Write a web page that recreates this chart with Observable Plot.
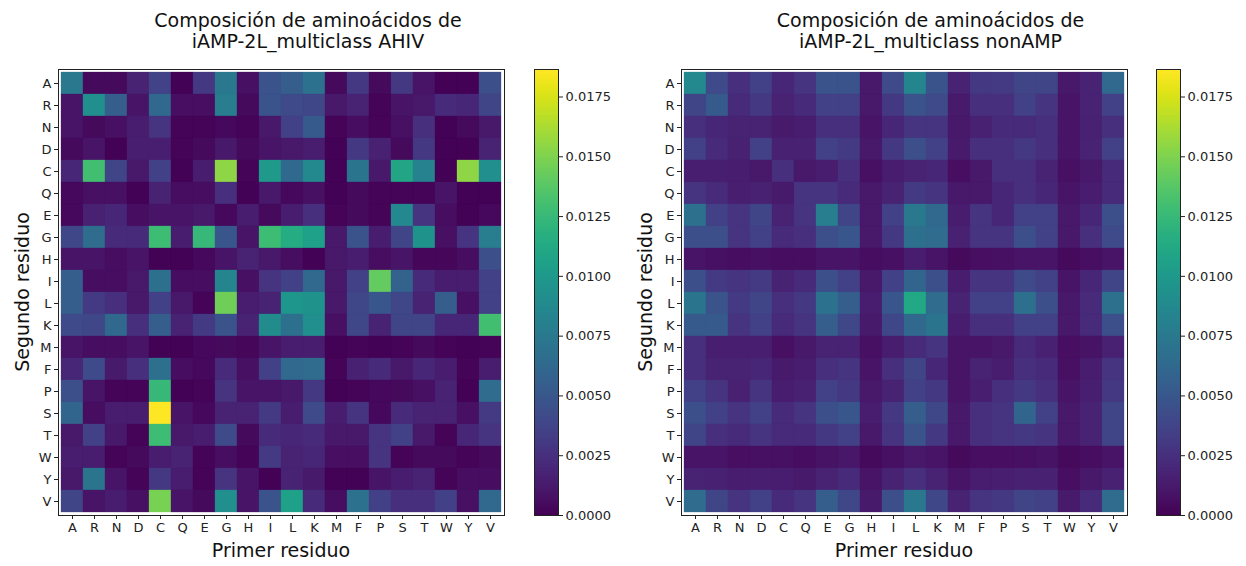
<!DOCTYPE html>
<html>
<head>
<meta charset="utf-8">
<script src="https://cdn.jsdelivr.net/npm/d3@7"></script>
<script src="https://cdn.jsdelivr.net/npm/@observablehq/plot@0.6"></script>
<style>
  body { margin: 0; background: #fff; font-family: "DejaVu Sans", sans-serif; }
  #root { position: relative; width: 1246px; height: 566px; overflow: hidden; background: #fff; }
  .abs { position: absolute; }
  .title { font-size: 19px; line-height: 21px; text-align: center; color: #111; white-space: nowrap; transform: translateX(-50%); }
  .xlab { font-size: 19px; color: #111; white-space: nowrap; transform: translate(-50%, -50%); }
  .ylab { font-size: 19px; color: #111; white-space: nowrap; transform: translate(-50%, -50%) rotate(-90deg); }
</style>
</head>
<body>
<div id="root"></div>
<script>
// Residue order (x: first residue, y: second residue)
const residues = ["A","R","N","D","C","Q","E","G","H","I","L","K","M","F","P","S","T","W","Y","V"];
const colorbarTicks = [0, 0.0025, 0.005, 0.0075, 0.01, 0.0125, 0.015, 0.0175];
const vmax = 0.01865;

const titleAHIV = ["Composición de aminoácidos de", "iAMP-2L_multiclass AHIV"];
const titleNonAMP = ["Composición de aminoácidos de", "iAMP-2L_multiclass nonAMP"];
const xLabel = "Primer residuo";
const yLabel = "Segundo residuo";

// AHIV: one array per second residue (row), values along first residue (columns)
const ahiv_A = [0.0075,0.0005,0.0005,0.0018,0.0037,0.0001,0.0030,0.0075,0.0008,0.0048,0.0055,0.0070,0.0005,0.0030,0.0005,0.0030,0.0010,0.0001,0.0001,0.0045];
const ahiv_R = [0.0010,0.0092,0.0055,0.0010,0.0062,0.0007,0.0007,0.0078,0.0005,0.0048,0.0042,0.0040,0.0012,0.0018,0.0002,0.0010,0.0012,0.0022,0.0020,0.0038];
const ahiv_N = [0.0010,0.0005,0.0008,0.0015,0.0028,0.0002,0.0002,0.0004,0.0002,0.0012,0.0035,0.0052,0.0002,0.0006,0.0002,0.0008,0.0025,0.0001,0.0005,0.0012];
const ahiv_D = [0.0005,0.0010,0.0001,0.0016,0.0016,0.0002,0.0005,0.0012,0.0005,0.0010,0.0012,0.0015,0.0001,0.0030,0.0017,0.0005,0.0030,0.0001,0.0001,0.0018];
const ahiv_C = [0.0020,0.0130,0.0038,0.0012,0.0035,0.0001,0.0015,0.0155,0.0002,0.0100,0.0063,0.0088,0.0001,0.0072,0.0012,0.0110,0.0082,0.0001,0.0155,0.0092];
const ahiv_Q = [0.0004,0.0008,0.0008,0.0001,0.0018,0.0006,0.0006,0.0025,0.0001,0.0012,0.0004,0.0008,0.0001,0.0005,0.0002,0.0002,0.0002,0.0010,0.0001,0.0001];
const ahiv_E = [0.0004,0.0017,0.0020,0.0006,0.0010,0.0010,0.0012,0.0004,0.0014,0.0005,0.0014,0.0025,0.0002,0.0005,0.0002,0.0088,0.0028,0.0006,0.0001,0.0004];
const ahiv_G = [0.0040,0.0065,0.0022,0.0022,0.0128,0.0015,0.0125,0.0050,0.0010,0.0128,0.0115,0.0105,0.0012,0.0048,0.0015,0.0038,0.0095,0.0008,0.0028,0.0078];
const ahiv_H = [0.0010,0.0010,0.0006,0.0010,0.0001,0.0001,0.0004,0.0010,0.0018,0.0012,0.0006,0.0001,0.0012,0.0015,0.0006,0.0010,0.0003,0.0003,0.0006,0.0045];
const ahiv_I = [0.0055,0.0006,0.0006,0.0012,0.0068,0.0006,0.0006,0.0085,0.0008,0.0028,0.0035,0.0062,0.0012,0.0035,0.0142,0.0058,0.0022,0.0015,0.0015,0.0035];
const ahiv_L = [0.0055,0.0032,0.0025,0.0012,0.0035,0.0012,0.0002,0.0145,0.0015,0.0018,0.0098,0.0095,0.0012,0.0040,0.0050,0.0040,0.0018,0.0055,0.0008,0.0035];
const ahiv_K = [0.0042,0.0040,0.0062,0.0025,0.0055,0.0018,0.0032,0.0048,0.0018,0.0090,0.0068,0.0092,0.0008,0.0040,0.0018,0.0038,0.0038,0.0020,0.0020,0.0130];
const ahiv_M = [0.0010,0.0006,0.0006,0.0010,0.0001,0.0001,0.0004,0.0005,0.0003,0.0010,0.0014,0.0014,0.0001,0.0002,0.0001,0.0002,0.0005,0.0002,0.0001,0.0002];
const ahiv_F = [0.0020,0.0042,0.0013,0.0025,0.0068,0.0006,0.0004,0.0022,0.0008,0.0035,0.0062,0.0065,0.0002,0.0017,0.0022,0.0012,0.0020,0.0015,0.0002,0.0014];
const ahiv_P = [0.0045,0.0010,0.0002,0.0002,0.0125,0.0001,0.0002,0.0028,0.0010,0.0010,0.0012,0.0030,0.0001,0.0002,0.0004,0.0005,0.0008,0.0018,0.0001,0.0065];
const ahiv_S = [0.0060,0.0006,0.0015,0.0015,0.0186,0.0010,0.0004,0.0018,0.0018,0.0032,0.0015,0.0042,0.0015,0.0028,0.0004,0.0022,0.0018,0.0018,0.0008,0.0032];
const ahiv_T = [0.0012,0.0035,0.0012,0.0002,0.0128,0.0012,0.0014,0.0042,0.0005,0.0022,0.0020,0.0022,0.0012,0.0012,0.0028,0.0035,0.0012,0.0002,0.0020,0.0028];
const ahiv_W = [0.0014,0.0014,0.0002,0.0005,0.0015,0.0018,0.0002,0.0006,0.0002,0.0032,0.0018,0.0020,0.0007,0.0007,0.0028,0.0002,0.0005,0.0005,0.0002,0.0005];
const ahiv_Y = [0.0012,0.0072,0.0010,0.0002,0.0030,0.0014,0.0002,0.0028,0.0010,0.0001,0.0018,0.0013,0.0001,0.0001,0.0010,0.0015,0.0018,0.0002,0.0006,0.0006];
const ahiv_V = [0.0038,0.0010,0.0014,0.0008,0.0148,0.0010,0.0005,0.0092,0.0010,0.0048,0.0105,0.0022,0.0006,0.0070,0.0035,0.0025,0.0025,0.0035,0.0008,0.0062];

// nonAMP
const non_A = [0.0088,0.0042,0.0025,0.0035,0.0020,0.0028,0.0048,0.0048,0.0012,0.0042,0.0085,0.0048,0.0018,0.0030,0.0032,0.0038,0.0038,0.0012,0.0018,0.0062];
const non_R = [0.0038,0.0052,0.0022,0.0030,0.0018,0.0022,0.0035,0.0035,0.0012,0.0030,0.0048,0.0042,0.0013,0.0025,0.0025,0.0035,0.0028,0.0010,0.0018,0.0035];
const non_N = [0.0025,0.0020,0.0018,0.0018,0.0013,0.0015,0.0025,0.0025,0.0010,0.0020,0.0028,0.0028,0.0012,0.0017,0.0022,0.0022,0.0025,0.0010,0.0017,0.0025];
const non_D = [0.0035,0.0022,0.0017,0.0035,0.0017,0.0017,0.0035,0.0032,0.0012,0.0030,0.0045,0.0035,0.0013,0.0025,0.0025,0.0030,0.0025,0.0010,0.0018,0.0035];
const non_C = [0.0016,0.0016,0.0014,0.0012,0.0025,0.0012,0.0015,0.0025,0.0008,0.0015,0.0018,0.0020,0.0007,0.0012,0.0025,0.0025,0.0018,0.0008,0.0012,0.0022];
const non_Q = [0.0028,0.0022,0.0016,0.0017,0.0013,0.0028,0.0028,0.0022,0.0012,0.0018,0.0032,0.0028,0.0012,0.0012,0.0020,0.0025,0.0020,0.0010,0.0014,0.0022];
const non_E = [0.0068,0.0035,0.0028,0.0038,0.0018,0.0028,0.0078,0.0038,0.0012,0.0035,0.0075,0.0062,0.0015,0.0028,0.0020,0.0035,0.0035,0.0012,0.0020,0.0045];
const non_G = [0.0045,0.0045,0.0028,0.0035,0.0022,0.0025,0.0045,0.0050,0.0012,0.0030,0.0068,0.0065,0.0017,0.0028,0.0028,0.0045,0.0035,0.0012,0.0025,0.0042];
const non_H = [0.0010,0.0008,0.0006,0.0008,0.0006,0.0006,0.0010,0.0010,0.0006,0.0008,0.0015,0.0010,0.0005,0.0007,0.0008,0.0010,0.0010,0.0005,0.0007,0.0010];
const non_I = [0.0045,0.0032,0.0028,0.0032,0.0018,0.0022,0.0045,0.0035,0.0012,0.0035,0.0060,0.0045,0.0015,0.0028,0.0028,0.0042,0.0035,0.0010,0.0020,0.0038];
const non_L = [0.0072,0.0048,0.0032,0.0038,0.0025,0.0030,0.0070,0.0055,0.0015,0.0050,0.0112,0.0065,0.0018,0.0035,0.0035,0.0068,0.0045,0.0012,0.0022,0.0068];
const non_K = [0.0052,0.0052,0.0028,0.0035,0.0022,0.0028,0.0055,0.0040,0.0013,0.0040,0.0062,0.0072,0.0015,0.0025,0.0025,0.0035,0.0035,0.0012,0.0022,0.0045];
const non_M = [0.0025,0.0016,0.0016,0.0016,0.0008,0.0012,0.0018,0.0018,0.0008,0.0015,0.0022,0.0028,0.0010,0.0010,0.0012,0.0022,0.0017,0.0007,0.0009,0.0017];
const non_F = [0.0025,0.0018,0.0018,0.0020,0.0013,0.0014,0.0025,0.0028,0.0010,0.0025,0.0038,0.0020,0.0010,0.0018,0.0014,0.0025,0.0022,0.0008,0.0015,0.0028];
const non_P = [0.0035,0.0028,0.0017,0.0028,0.0014,0.0017,0.0035,0.0030,0.0012,0.0018,0.0035,0.0030,0.0010,0.0016,0.0025,0.0030,0.0025,0.0010,0.0016,0.0030];
const non_S = [0.0045,0.0035,0.0028,0.0035,0.0022,0.0028,0.0045,0.0050,0.0014,0.0030,0.0055,0.0040,0.0012,0.0025,0.0028,0.0060,0.0035,0.0012,0.0018,0.0038];
const non_T = [0.0038,0.0025,0.0022,0.0028,0.0022,0.0022,0.0030,0.0035,0.0012,0.0028,0.0048,0.0030,0.0012,0.0025,0.0028,0.0030,0.0028,0.0012,0.0018,0.0038];
const non_W = [0.0010,0.0010,0.0007,0.0008,0.0008,0.0006,0.0009,0.0011,0.0005,0.0008,0.0012,0.0010,0.0005,0.0007,0.0007,0.0008,0.0009,0.0005,0.0006,0.0010];
const non_Y = [0.0018,0.0017,0.0015,0.0016,0.0014,0.0013,0.0018,0.0022,0.0010,0.0018,0.0025,0.0018,0.0010,0.0014,0.0016,0.0017,0.0017,0.0007,0.0012,0.0017];
const non_V = [0.0065,0.0038,0.0028,0.0035,0.0022,0.0028,0.0055,0.0040,0.0013,0.0045,0.0075,0.0040,0.0018,0.0028,0.0030,0.0038,0.0035,0.0013,0.0022,0.0065];

const ahivRows = [ahiv_A,ahiv_R,ahiv_N,ahiv_D,ahiv_C,ahiv_Q,ahiv_E,ahiv_G,ahiv_H,ahiv_I,ahiv_L,ahiv_K,ahiv_M,ahiv_F,ahiv_P,ahiv_S,ahiv_T,ahiv_W,ahiv_Y,ahiv_V];
const nonRows = [non_A,non_R,non_N,non_D,non_C,non_Q,non_E,non_G,non_H,non_I,non_L,non_K,non_M,non_F,non_P,non_S,non_T,non_W,non_Y,non_V];

const FONT = "'DejaVu Sans', sans-serif";
const SIZE = 446;
const M = {left: 50, right: 6, top: 9, bottom: 40};

function heatmap(rows) {
  const data = [];
  rows.forEach((row, i) => row.forEach((v, j) => data.push({first: residues[j], second: residues[i], v})));
  return Plot.plot({
    width: M.left + SIZE + M.right,
    height: M.top + SIZE + M.bottom,
    marginLeft: M.left, marginRight: M.right, marginTop: M.top, marginBottom: M.bottom,
    style: {fontFamily: FONT, fontSize: "13px", color: "#222", background: "transparent", overflow: "visible"},
    x: {domain: residues, padding: 0, label: null, tickSize: 4, tickPadding: 3},
    y: {domain: residues, padding: 0, label: null, tickSize: 4, tickPadding: 3},
    color: {type: "linear", scheme: "viridis", domain: [0, vmax]},
    marks: [
      Plot.cell(data, {x: "first", y: "second", fill: "v", stroke: "v", strokeWidth: 0.3}),
      Plot.frame({stroke: "#222", strokeWidth: 1})
    ]
  });
}

function colorbar() {
  const n = 446;
  const stops = d3.range(n).map(i => ({x1: 0, x2: 1, y1: i * vmax / n, y2: (i + 1) * vmax / n, mid: (i + 0.5) * vmax / n}));
  return Plot.plot({
    width: 24 + 70,
    height: M.top + SIZE + M.bottom,
    marginLeft: 0, marginRight: 70, marginTop: M.top, marginBottom: M.bottom,
    style: {fontFamily: FONT, fontSize: "13px", color: "#222", background: "transparent", overflow: "visible"},
    x: {domain: [0, 1], axis: null},
    y: {domain: [0, vmax], axis: "right", ticks: colorbarTicks, tickFormat: d3.format(".4f"), label: null, tickSize: 4, tickPadding: 3},
    color: {type: "linear", scheme: "viridis", domain: [0, vmax]},
    marks: [
      Plot.rect(stops, {x1: "x1", x2: "x2", y1: "y1", y2: "y2", fill: "mid", stroke: "mid", strokeWidth: 1, shapeRendering: "crispEdges"}),
      Plot.frame({stroke: "#222", strokeWidth: 1})
    ]
  });
}

const root = document.getElementById("root");
function place(el, left, top) {
  el.classList.add("abs");
  el.style.left = left + "px";
  el.style.top = top + "px";
  root.appendChild(el);
  return el;
}
function text(cls, str, left, top) {
  const d = document.createElement("div");
  d.className = cls;
  d.innerHTML = str;
  return place(d, left, top);
}

function panel(rows, title, heatLeft, cbLeft) {
  const top = 69;
  place(heatmap(rows), heatLeft - M.left, top - M.top);
  place(colorbar(), cbLeft, top - M.top);
  const cx = heatLeft + SIZE / 2;
  text("title", title.join("<br>"), (heatLeft + cbLeft + 24) / 2, 10);
  text("xlab", xLabel, cx, 550);
  text("ylab", yLabel, heatLeft - 36, top + SIZE / 2);
}

panel(ahivRows, titleAHIV, 58, 534);
panel(nonRows, titleNonAMP, 681, 1156);
</script>
</body>
</html>
